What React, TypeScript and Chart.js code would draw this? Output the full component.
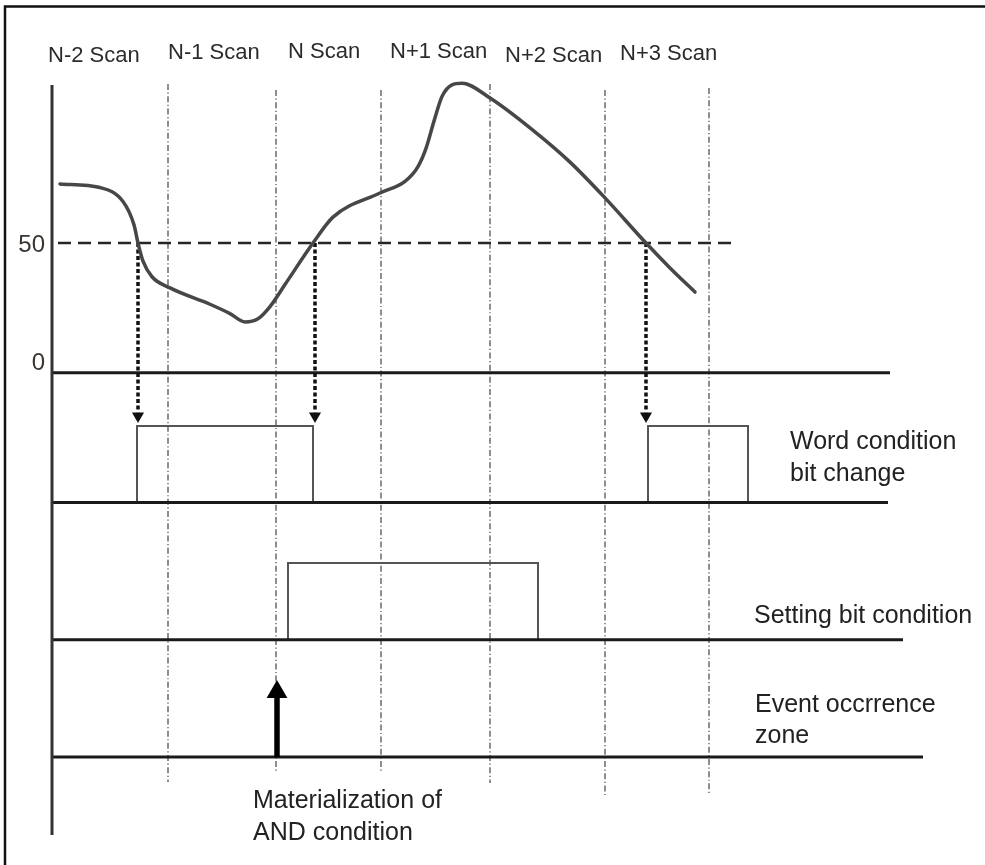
import React, { useEffect, useRef } from "react";
import { Chart, registerables } from "chart.js";

Chart.register(...registerables);

// ---- data (time axis in scan-time units, value axis in signal units) ----
const scanLabels = ["N-2 Scan", "N-1 Scan", "N Scan", "N+1 Scan", "N+2 Scan", "N+3 Scan"];
const scanX = [168, 276, 381, 490, 605, 709];
const scanTop = [111.3, 109.0, 109.0, 111.3, 109.0, 109.8];
const scanBottom = [-157.8, -153.9, -153.9, -158.2, -163.6, -162.8];

const curveX = [60, 100, 123, 134, 138, 143, 152, 170, 210, 230, 245, 258, 270, 285, 313, 333, 380, 405, 418, 426, 434, 442, 452, 462, 490, 530, 570, 605, 646, 670, 695];
const curveY = [72.8, 71.4, 66.0, 57.0, 50.0, 43.0, 37.0, 32.7, 26.4, 22.8, 19.6, 20.8, 25.5, 34.0, 50.0, 60.0, 69.3, 73.8, 79.5, 86.5, 97.0, 106.5, 111.0, 111.6, 105.9, 94.4, 81.2, 67.4, 50.0, 40.4, 31.1];

const yTicks = [0, 50];
const threshold = 50;
const thresholdEnd = 732;
const axisX = 52;
const axisTop = 110.9;
const axisBottom = -178.2;
const zeroEnd = 890;

const crossX = [138, 315, 646];

const wordLow = -50;
const wordHigh = -20.5;
const wordPulses = [[137, 313], [648, 748]];
const wordEnd = 888;

const settingLow = -103;
const settingHigh = -73.4;
const settingPulses = [[288, 538]];
const settingEnd = 903;

const eventLow = -148.2;
const eventEnd = 923;
const eventX = 277;
const eventTip = -123.1;

const X_MIN = 0, X_MAX = 985, Y_MIN = -189.8, Y_MAX = 143.7;

// ---- text annotations ----
const FONT = '"Liberation Sans", Arial, sans-serif';
const scanLabelPos = [
  { x: 48, y: 119.9 }, { x: 168, y: 120.8 }, { x: 288, y: 121.2 },
  { x: 390, y: 121.2 }, { x: 505, y: 119.9 }, { x: 620, y: 120.6 },
];
const sideTexts = [
  { t: "Word condition", x: 790, y: -29.4 },
  { t: "bit change", x: 790, y: -41.8 },
  { t: "Setting bit condition", x: 754, y: -96.5 },
  { t: "Event occrrence", x: 755, y: -130.8 },
  { t: "zone", x: 755, y: -142.8 },
  { t: "Materialization of", x: 253, y: -167.8 },
  { t: "AND condition", x: 253, y: -180.2 },
];
const tickLabelPos = [{ x: 45, y: 1.05 }, { x: 45, y: 46.5 }];

function line(points: { x: number; y: number }[], color: string, width: number, dash: number[] = [], extra: any = {}) {
  return {
    type: "line" as const,
    data: points,
    showLine: true,
    borderColor: color,
    borderWidth: width,
    borderDash: dash,
    pointRadius: 0,
    pointHoverRadius: 0,
    fill: false,
    tension: 0,
    ...extra,
  };
}

const overlay = {
  id: "overlay",
  beforeDraw(chart: any) {
    const ctx = chart.ctx;
    ctx.save();
    ctx.fillStyle = "#ffffff";
    ctx.fillRect(0, 0, chart.width, chart.height);
    ctx.restore();
  },
  afterDraw(chart: any) {
    const ctx = chart.ctx;
    const xs = chart.scales.x;
    const ys = chart.scales.y;
    ctx.save();
    // frame
    ctx.strokeStyle = "#111";
    ctx.lineWidth = 2.5;
    ctx.beginPath();
    ctx.moveTo(5, chart.height);
    ctx.lineTo(5, 6.5);
    ctx.lineTo(chart.width, 6.5);
    ctx.stroke();
    ctx.textBaseline = "alphabetic";
    // scan labels
    ctx.fillStyle = "#2b2b2b";
    ctx.font = `22px ${FONT}`;
    ctx.textAlign = "left";
    scanLabels.forEach((s, i) => {
      ctx.fillText(s, xs.getPixelForValue(scanLabelPos[i].x), ys.getPixelForValue(scanLabelPos[i].y));
    });
    // y tick labels
    ctx.font = `24px ${FONT}`;
    ctx.fillStyle = "#3a3530";
    ctx.textAlign = "right";
    yTicks.forEach((v, i) => {
      ctx.fillText(String(v), xs.getPixelForValue(tickLabelPos[i].x), ys.getPixelForValue(tickLabelPos[i].y));
    });
    // side texts
    ctx.font = `25px ${FONT}`;
    ctx.fillStyle = "#222";
    ctx.textAlign = "left";
    sideTexts.forEach((s) => {
      ctx.fillText(s.t, xs.getPixelForValue(s.x), ys.getPixelForValue(s.y));
    });
    ctx.restore();
  },
};

export default function App() {
  const ref = useRef<HTMLCanvasElement | null>(null);
  useEffect(() => {
    if (!ref.current) return;
    const datasets: any[] = [];

    // curve
    datasets.push(
      line(curveX.map((x, i) => ({ x, y: curveY[i] })), "#474747", 3.5, [], {
        cubicInterpolationMode: "monotone",
        borderCapStyle: "round",
      })
    );
    // dotted arrows from crossings
    crossX.forEach((x) => {
      datasets.push(line([{ x, y: threshold }, { x, y: -15.2 }], "#111", 3.5, [4, 2.5]));
      datasets.push({
        type: "line",
        data: [{ x, y: -16.7 }],
        showLine: false,
        pointStyle: "triangle",
        pointRadius: 7,
        pointHoverRadius: 7,
        pointRotation: 180,
        pointBackgroundColor: "#111",
        pointBorderWidth: 0,
      });
    });
    // up arrow (AND materialization)
    datasets.push(line([{ x: eventX, y: eventLow }, { x: eventX, y: eventTip - 1.2 }], "#000", 5.5));
    datasets.push({
      type: "line",
      data: [{ x: eventX, y: eventTip }],
      showLine: false,
      pointStyle: "triangle",
      pointRadius: 12,
      pointHoverRadius: 12,
      pointRotation: 0,
      pointBackgroundColor: "#000",
      pointBorderWidth: 0,
    });
    // threshold dashed
    datasets.push(line([{ x: axisX + 6, y: threshold }, { x: thresholdEnd, y: threshold }], "#262626", 2.6, [13, 7]));
    // left axis
    datasets.push(line([{ x: axisX, y: axisTop }, { x: axisX, y: axisBottom }], "#333", 3));
    // baselines
    datasets.push(line([{ x: axisX, y: 0 }, { x: zeroEnd, y: 0 }], "#1a1a1a", 3));
    datasets.push(line([{ x: axisX, y: wordLow }, { x: wordEnd, y: wordLow }], "#1a1a1a", 3));
    datasets.push(line([{ x: axisX, y: settingLow }, { x: settingEnd, y: settingLow }], "#1a1a1a", 3));
    datasets.push(line([{ x: axisX, y: eventLow }, { x: eventEnd, y: eventLow }], "#1a1a1a", 3));
    // pulses
    wordPulses.forEach(([a, b]) => {
      datasets.push(line([{ x: a, y: wordLow }, { x: a, y: wordHigh }, { x: b, y: wordHigh }, { x: b, y: wordLow }], "#555", 2));
    });
    settingPulses.forEach(([a, b]) => {
      datasets.push(line([{ x: a, y: settingLow }, { x: a, y: settingHigh }, { x: b, y: settingHigh }, { x: b, y: settingLow }], "#555", 2));
    });
    // scan lines (dash-dot)
    scanX.forEach((x, i) => {
      datasets.push(line([{ x, y: scanTop[i] }, { x, y: scanBottom[i] }], "#444", 1.2, [6, 2.5, 1.2, 2.5]));
    });

    const chart = new Chart(ref.current, {
      type: "scatter",
      data: { datasets },
      options: {
        responsive: false,
        maintainAspectRatio: false,
        animation: false,
        devicePixelRatio: 1,
        events: [],
        layout: { padding: 0, autoPadding: false },
        plugins: { legend: { display: false }, tooltip: { enabled: false } },
        scales: {
          x: { type: "linear", min: X_MIN, max: X_MAX, display: false },
          y: { type: "linear", min: Y_MIN, max: Y_MAX, display: false },
        },
        elements: { line: { borderCapStyle: "butt" } },
      },
      plugins: [overlay],
    } as any);
    return () => chart.destroy();
  }, []);

  return (
    <div style={{ position: "fixed", left: 0, top: 0, width: 985, height: 865, background: "#fff" }}>
      <canvas ref={ref} width={985} height={865} style={{ display: "block", width: 985, height: 865 }} />
    </div>
  );
}
